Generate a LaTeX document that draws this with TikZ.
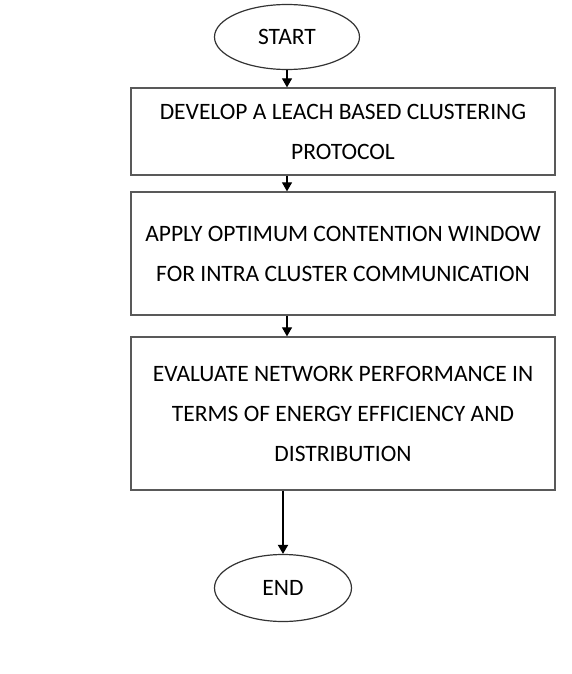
\documentclass[tikz,border=0pt]{standalone}
\usepackage{fontspec}
\setmainfont{Carlito}
\usetikzlibrary{shapes.geometric,arrows.meta}
\tikzset{
    term/.style={draw=black!80, line width=1.2pt, ellipse, inner sep=0pt},
    stepbox/.style={draw=black!65, line width=1.3pt, rectangle, minimum width=424pt, align=center, inner sep=0pt},
    flow/.style={-{Triangle[width=10pt,length=9pt]}, line width=1.2pt}
}
\begin{document}
\begin{tikzpicture}[x=1pt,y=-1pt]
        \useasboundingbox (0,0) rectangle (571,674);
        \fontsize{23.5}{40}\selectfont
        \node[term, minimum width=145pt, minimum height=65pt] (start) at (287,37) {START};
        \node[stepbox, minimum height=87pt] (dev) at (343,131.5) {DEVELOP A LEACH BASED CLUSTERING\\PROTOCOL};
        \node[stepbox, minimum height=123pt] (cw) at (343,253.5) {APPLY OPTIMUM CONTENTION WINDOW\\FOR INTRA CLUSTER COMMUNICATION};
        \node[stepbox, minimum height=153pt] (eval) at (343,413.5) {EVALUATE NETWORK PERFORMANCE IN\\TERMS OF ENERGY EFFICIENCY AND\\DISTRIBUTION};
        \node[term, minimum width=137pt, minimum height=67pt] (end) at (283,588) {END};
        \draw[flow] (start.south) -- (start.south |- dev.north);
        \draw[flow] (dev.south -| start) -- (cw.north -| start);
        \draw[flow] (cw.south -| start) -- (eval.north -| start);
        \draw[flow, line width=1.8pt] (eval.south -| end) -- (end.north);
    \end{tikzpicture}
\end{document}
